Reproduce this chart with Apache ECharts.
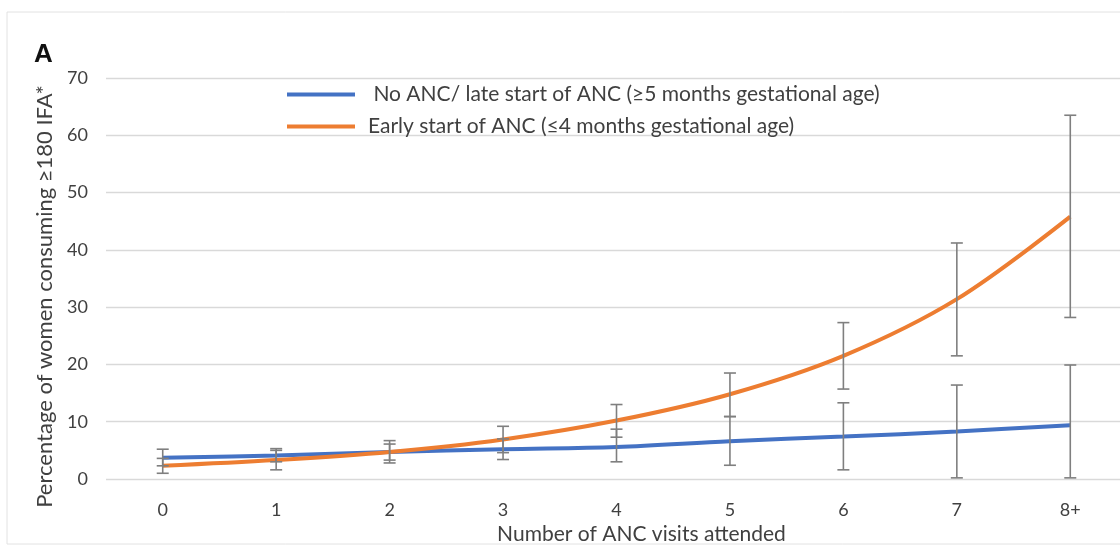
<!DOCTYPE html>
<html><head><meta charset="utf-8">
<script src="https://cdn.jsdelivr.net/npm/echarts@6/dist/echarts.min.js"></script>
<style>html,body{margin:0;padding:0;background:#fff}#c{width:1120px;height:547px}</style>
</head><body><div id="c"></div>
<script>
const categories = ['0','1','2','3','4','5','6','7','8+'];
const lateANC   = [3.7, 4.1, 4.7, 5.2, 5.6, 6.6, 7.4, 8.3, 9.4];
const lateLow   = [2.3, 3.0, 3.3, 3.4, 3.0, 2.4, 1.6, 0.2, 0.2];
const lateHigh  = [5.2, 5.3, 6.1, 7.0, 8.7, 10.9, 13.3, 16.4, 19.9];
const earlyANC  = [2.3, 3.3, 4.7, 6.9, 10.2, 14.8, 21.5, 31.4, 45.8];
const earlyLow  = [1.0, 1.6, 2.8, 4.6, 7.3, 10.9, 15.7, 21.5, 28.2];
const earlyHigh = [3.6, 5.0, 6.7, 9.2, 13.0, 18.5, 27.3, 41.2, 63.5];
const yTicks = [0, 10, 20, 30, 40, 50, 60, 70];

const FONT = 'Lato';
const TXT = '#404040';

function errData(lo, hi){ return lo.map((v,i)=>[i, v, hi[i]]); }
function errRender(params, api){
  const i = api.value(0);
  const p1 = api.coord([i, api.value(1)]);
  const p2 = api.coord([i, api.value(2)]);
  const w = 6;
  const st = {stroke:'#7f7f7f', lineWidth:1.6};
  return {type:'group', children:[
    {type:'line', shape:{x1:p1[0],y1:p1[1],x2:p2[0],y2:p2[1]}, style:st},
    {type:'line', shape:{x1:p1[0]-w,y1:p1[1],x2:p1[0]+w,y2:p1[1]}, style:st},
    {type:'line', shape:{x1:p2[0]-w,y1:p2[1],x2:p2[0]+w,y2:p2[1]}, style:st}
  ]};
}

const chart = echarts.init(document.getElementById('c'), null, {renderer:'canvas'});
chart.setOption({
  animation:false,
  textStyle:{fontFamily:FONT},
  graphic:[
    {type:'rect', shape:{x:7,y:12,width:1120,height:532}, style:{fill:'none', stroke:'#e2e2e2', lineWidth:1}},
    {type:'text', left:34, top:42, style:{text:'A', fontSize:26, fontWeight:'bold', fontFamily:'Liberation Sans', fill:'#111'}}
  ],
  legend:{
    left:287, top:84, padding:0, orient:'vertical', itemWidth:68, itemHeight:4, itemGap:11,
    icon:'rect',
    textStyle:{fontSize:21, color:TXT, fontFamily:FONT, padding:[0,0,0,8]},
    data:[
      {name:' No ANC/ late start of ANC (≥5 months gestational age)'},
      {name:'Early start of ANC (≤4 months gestational age)'}
    ]
  },
  grid:{left:106, width:1021, top:78, bottom:68, containLabel:false, outerBoundsMode:'none'},
  xAxis:{
    type:'category', data:categories, boundaryGap:true,
    name:'Number of ANC visits attended', nameLocation:'middle', nameGap:44,
    nameTextStyle:{fontSize:21, color:TXT, fontFamily:FONT, padding:[0,0,0,50]},
    axisLine:{show:false}, axisTick:{show:false},
    axisLabel:{fontSize:18, color:TXT, margin:22, fontFamily:FONT}
  },
  yAxis:{
    type:'value', min:yTicks[0], max:yTicks[yTicks.length-1], interval:10,
    name:'Percentage of women consuming ≥180 IFA*', nameLocation:'middle', nameGap:50,
    nameTextStyle:{fontSize:22, color:TXT, fontFamily:FONT, padding:[0,36,0,0]},
    axisLine:{show:false}, axisTick:{show:false},
    axisLabel:{fontSize:18, color:TXT, margin:18, fontFamily:FONT},
    splitLine:{lineStyle:{color:'#d9d9d9', width:1.3}}
  },
  series:[
    {type:'custom', name:'errLate', renderItem:errRender, data:errData(lateLow, lateHigh), z:3, silent:true},
    {type:'custom', name:'errEarly', renderItem:errRender, data:errData(earlyLow, earlyHigh), z:3, silent:true},
    {type:'line', name:' No ANC/ late start of ANC (≥5 months gestational age)', data:lateANC,
      smooth:0.35, symbol:'none', color:'#4472c4', lineStyle:{width:4, color:'#4472c4'}, z:2},
    {type:'line', name:'Early start of ANC (≤4 months gestational age)', data:earlyANC,
      smooth:0.35, symbol:'none', color:'#ed7d31', lineStyle:{width:4, color:'#ed7d31'}, z:2}
  ]
});
</script></body></html>
